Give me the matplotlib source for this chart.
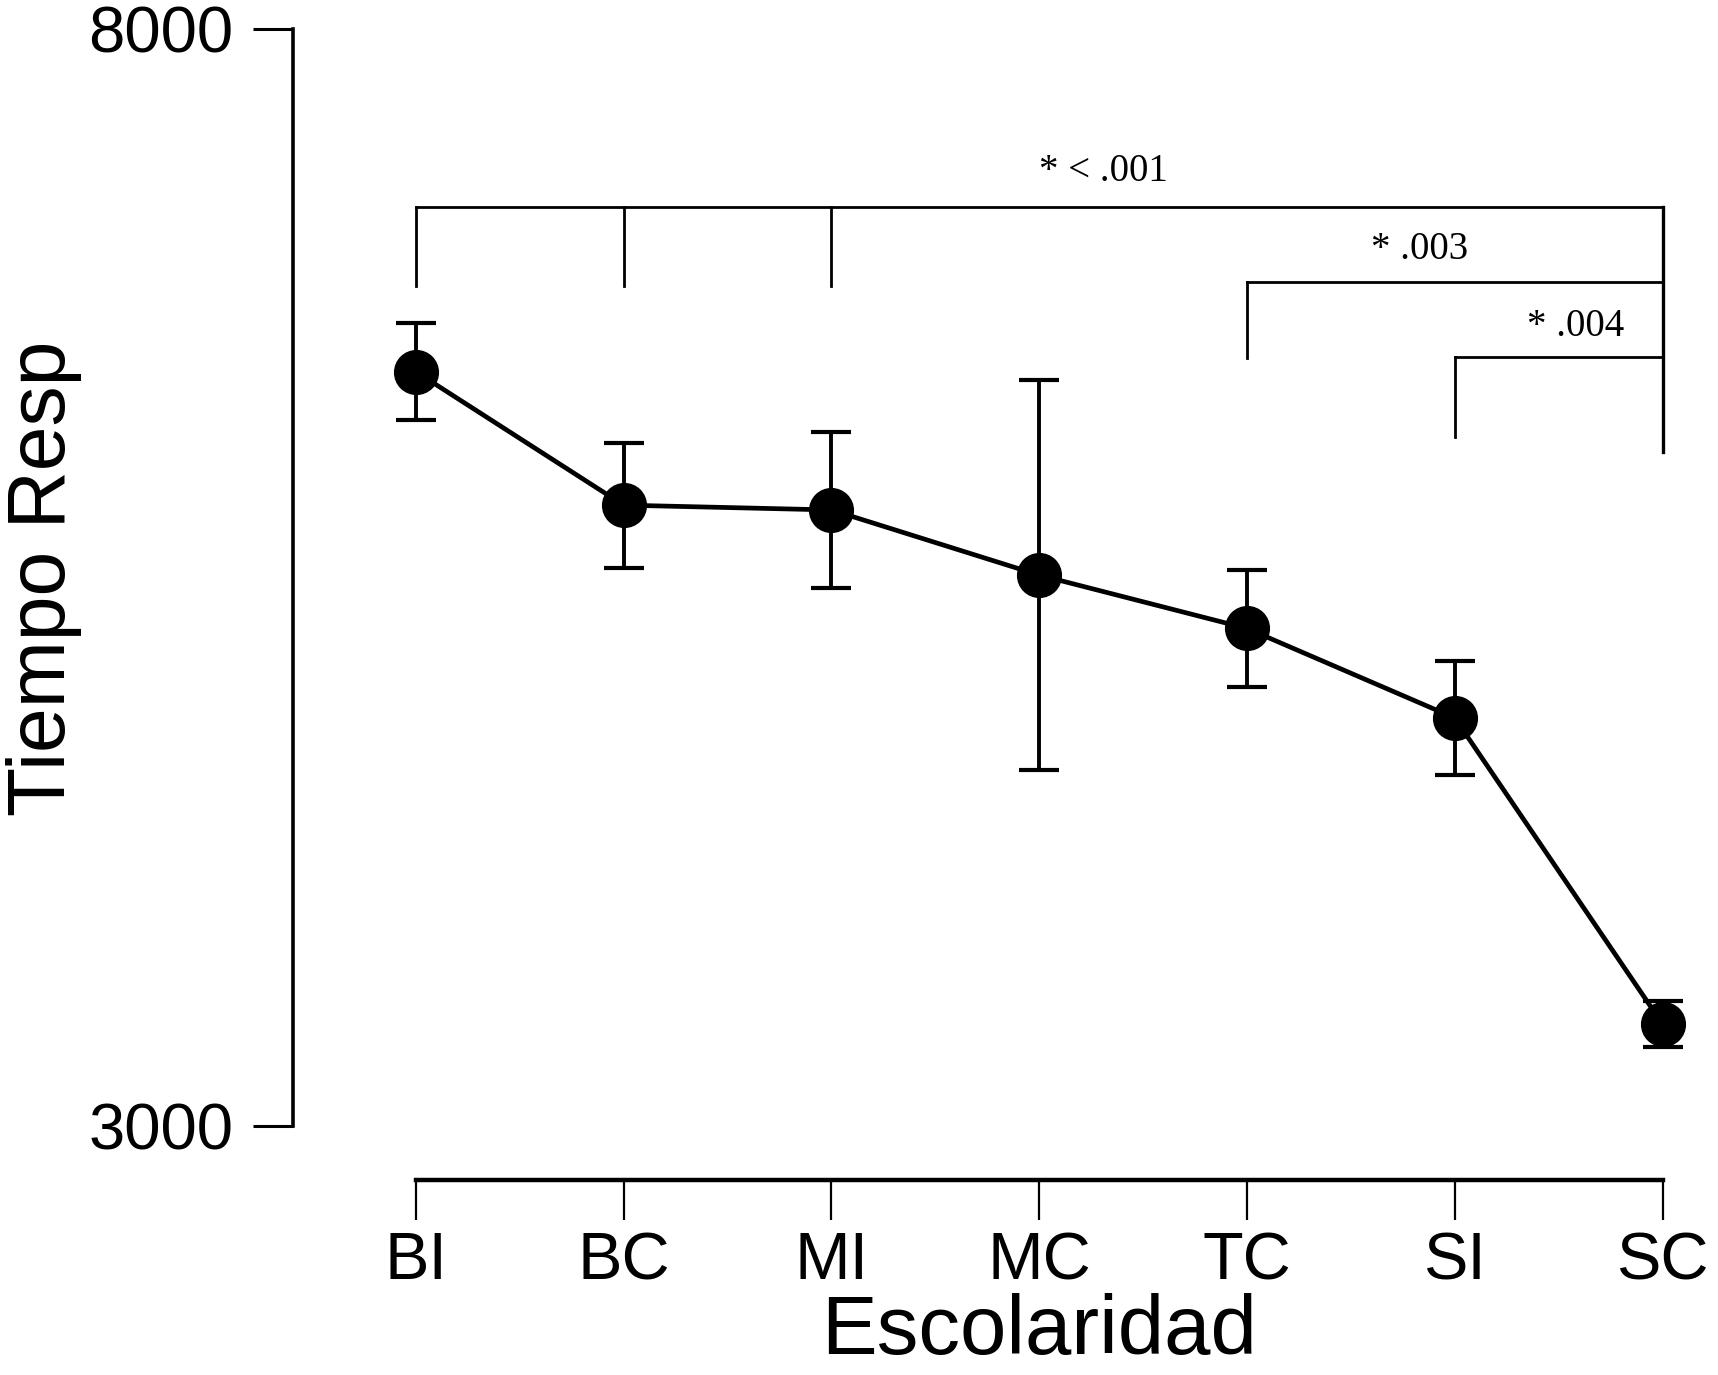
import matplotlib
matplotlib.use("Agg")
import matplotlib.pyplot as plt
import numpy as np

# ---- data ----
categories = ['BI', 'BC', 'MI', 'MC', 'TC', 'SI', 'SC']
means = [6438, 5830, 5808, 5511, 5268, 4860, 3465]
errors = [220, 285, 355, 890, 266, 258, 103]
y_ticks = [3000, 8000]

# significance brackets
sig_labels = ['* < .001', '* .003', '* .004']
sig_from = [['BI', 'BC', 'MI'], ['TC'], ['SI']]
sig_to = 'SC'
sig_level = [7190, 6847, 6505]
sig_drop = [6830, 6500, 6140]
sig_to_bottom = 6072

# ---- figure ----
fig = plt.figure(figsize=(17.18, 13.75), dpi=100)
ax = fig.add_axes([0.1705, 0.1418, 0.8214, 0.8371])
x = np.arange(len(categories))
ax.set_xlim(-0.592, 6.2)
ax.set_ylim(2754, 8000)

ax.plot(x, means, color='black', lw=3.4, zorder=2)
ax.errorbar(x, means, yerr=errors, fmt='none', ecolor='black', elinewidth=2.8,
            capsize=14.5, capthick=3.0, zorder=3)
ax.plot(x, means, 'o', color='black', markersize=31.5, zorder=4)

# brackets
pos = {c: i for i, c in enumerate(categories)}
text_x = [3.31, 4.83, 5.58]
text_y = [7350, 6993, 6642]
for i, lab in enumerate(sig_labels):
    lvl = sig_level[i]
    left = min(pos[c] for c in sig_from[i])
    ax.plot([left, pos[sig_to]], [lvl, lvl], color='black', lw=2.0, zorder=1)
    for c in sig_from[i]:
        ax.plot([pos[c], pos[c]], [lvl, sig_drop[i]], color='black', lw=2.0, zorder=1)
    ax.text(text_x[i], text_y[i], lab, ha='center', va='center',
            family='Liberation Serif', fontsize=28)
ax.plot([pos[sig_to], pos[sig_to]], [sig_level[0], sig_to_bottom], color='black', lw=2.4, zorder=1)

# axes styling
for s in ['top', 'right']:
    ax.spines[s].set_visible(False)
ax.spines['left'].set_bounds(3000, 8000)
ax.spines['left'].set_linewidth(2.6)
ax.spines['bottom'].set_bounds(0, 6)
ax.spines['bottom'].set_linewidth(3.2)

ax.set_yticks(y_ticks)
ax.set_yticklabels([str(v) for v in y_ticks])
ax.set_xticks(x)
ax.set_xticklabels(categories)
ax.tick_params(axis='y', length=29, width=2.2, pad=14, labelsize=47)
ax.tick_params(axis='x', length=29, width=1.6, pad=8, labelsize=48)
for lab in ax.get_xticklabels() + ax.get_yticklabels():
    lab.set_family('Liberation Sans')

fig.text(1039 / 1718, 4 / 1375, 'Escolaridad', ha='center', va='bottom',
         family='Liberation Sans', fontsize=60)
fig.text(44 / 1718, 1 - 578 / 1375, 'Tiempo Resp', ha='center', va='center',
         rotation=90, family='Liberation Sans', fontsize=58)

fig.savefig('out.png', dpi=100, facecolor='white')
